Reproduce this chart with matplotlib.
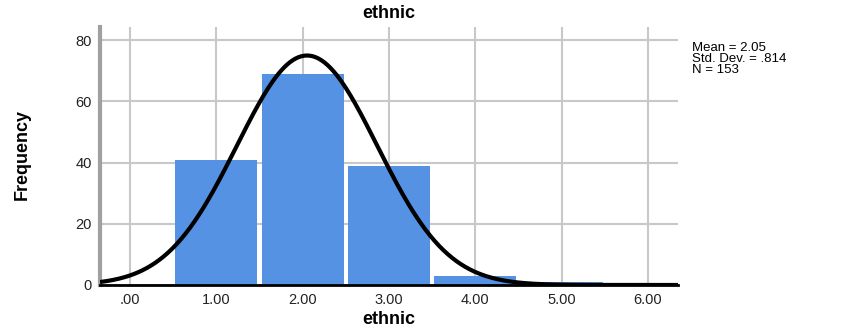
import numpy as np
import matplotlib
matplotlib.use("Agg")
import matplotlib.pyplot as plt

# Data
bin_centers = [1.0, 2.0, 3.0, 4.0, 5.0]
counts = [41, 69, 39, 3, 1]
mean = 2.05
std = 0.814
n = 153
xticks = [0, 1, 2, 3, 4, 5, 6]
xtick_labels = [".00", "1.00", "2.00", "3.00", "4.00", "5.00", "6.00"]
yticks = [0, 20, 40, 60, 80]

plt.rcParams['font.family'] = ['Liberation Sans', 'DejaVu Sans']

fig = plt.figure(figsize=(8.46, 3.28), dpi=100)
ax = fig.add_axes([100/846, 43/328, 578/846, 258/328])

ax.set_axisbelow(True)
ax.grid(True, color='#c8c8c8', linewidth=1.5)
ax.bar(bin_centers, counts, width=0.95, color='#5692e3', linewidth=0, zorder=2)

xs = np.linspace(-0.35, 6.35, 400)
ys = n * 1.0 / (std * np.sqrt(2 * np.pi)) * np.exp(-0.5 * ((xs - mean) / std) ** 2)
ax.plot(xs, ys, color='black', linewidth=3, zorder=3, solid_capstyle='butt')

ax.set_xlim(-0.35, 6.35)
ax.set_ylim(0, 84.3)
ax.set_xticks(xticks)
ax.set_xticklabels(xtick_labels, fontsize=10.5)
ax.set_yticks(yticks)
ax.set_yticklabels([str(v) for v in yticks], fontsize=10.5)
ax.tick_params(length=0, pad=6, colors='#222222')

for s in ['top', 'right']:
    ax.spines[s].set_visible(False)
ax.spines['bottom'].set_color('black')
ax.spines['bottom'].set_linewidth(2)
ax.spines['left'].set_color('#a0a0a0')
ax.spines['left'].set_linewidth(3)

fig.text(389/846, 1 - 14/328, "ethnic", ha='center', va='center', fontsize=13, fontweight='bold')
fig.text(389/846, 1 - 319/328, "ethnic", ha='center', va='center', fontsize=13, fontweight='bold')
fig.text(22/846, 1 - 155/328, "Frequency", ha='center', va='center', rotation=90, fontsize=13,
         fontweight='bold', family=['Liberation Sans Narrow', 'Liberation Sans'])

fig.text(692/846, 1 - 59/328, "Mean = 2.05\nStd. Dev. = .814\nN = 153", ha='left', va='center',
         fontsize=9.5, linespacing=0.85)

fig.savefig("out.png", dpi=100)
